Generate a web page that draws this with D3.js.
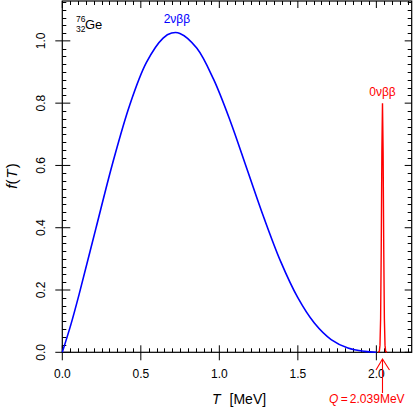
<!DOCTYPE html>
<html lang="en">
<head>
    <meta charset="UTF-8">
    <title>76Ge double beta spectrum</title>
    <style>
        body { margin: 0; background: #fff; }
        svg { display: block; font-family: "Liberation Sans", Arial, sans-serif; }
    </style>
</head>
<body>
    <div id="chart"></div>

    <script src="https://cdnjs.cloudflare.com/ajax/libs/d3/7.8.5/d3.min.js"></script>
    <script>
        // 2vbb continuum
        const twoNuT = [0, 0.054, 0.107, 0.214, 0.321, 0.428, 0.535, 0.642, 0.696, 0.749, 0.856, 0.963, 1.070, 1.177, 1.284, 1.391, 1.498, 1.605, 1.712, 1.819, 1.926, 2.000];
        const twoNuF = [0, 0.088, 0.186, 0.398, 0.608, 0.792, 0.930, 1.009, 1.025, 1.024, 0.977, 0.877, 0.742, 0.587, 0.432, 0.291, 0.177, 0.094, 0.041, 0.014, 0.003, 0];

        // 0vbb line at Q
        const zeroNuT = [2.011, 2.019, 2.023, 2.027, 2.031, 2.035, 2.039, 2.043, 2.047, 2.051, 2.055, 2.059, 2.067];
        const zeroNuF = [0, 0.003, 0.023, 0.108, 0.329, 0.641, 0.8, 0.641, 0.329, 0.108, 0.023, 0.003, 0];
        const qValue = 2.039;

        const xMajor = [0, 0.5, 1.0, 1.5, 2.0];
        const yMajor = [0, 0.2, 0.4, 0.6, 0.8, 1.0];

        const W = 415, H = 407;
        const x = d3.scaleLinear().domain([0, 2.225]).range([62.3, 411.7]);
        const y = d3.scaleLinear().domain([0, 1.128]).range([352.3, 1]);

        const svg = d3.select("#chart").append("svg")
            .attr("width", W).attr("height", H);

        const x0 = x.range()[0], x1 = x.range()[1];
        const y0 = y.range()[0], y1 = y.range()[1];

        // minor ticks
        const xMinor = d3.range(0, 2.225, 0.05).filter(v => Math.abs(v * 2 - Math.round(v * 2)) > 1e-6);
        const yMinor = d3.range(0, 1.128, 0.025).filter(v => Math.abs(v * 5 - Math.round(v * 5)) > 1e-6);

        const ticks = svg.append("g").attr("stroke", "#000").attr("stroke-width", 1);
        xMinor.forEach(v => {
            const px = Math.round(x(v)) + 0.5;
            ticks.append("line").attr("x1", px).attr("x2", px).attr("y1", y0).attr("y2", y0 - 4);
            ticks.append("line").attr("x1", px).attr("x2", px).attr("y1", y1).attr("y2", y1 + 4);
        });
        yMinor.forEach(v => {
            const py = Math.round(y(v)) + 0.5;
            ticks.append("line").attr("x1", x0).attr("x2", x0 + 4).attr("y1", py).attr("y2", py);
            ticks.append("line").attr("x1", x1).attr("x2", x1 - 4).attr("y1", py).attr("y2", py);
        });
        xMajor.forEach(v => {
            const px = x(v);
            ticks.append("line").attr("x1", px).attr("x2", px).attr("y1", y0 + 8).attr("y2", y0 - 7);
            ticks.append("line").attr("x1", px).attr("x2", px).attr("y1", y1).attr("y2", y1 + 7);
        });
        yMajor.forEach(v => {
            const py = y(v);
            ticks.append("line").attr("x1", x0 - 7).attr("x2", x0 + 8).attr("y1", py).attr("y2", py);
            ticks.append("line").attr("x1", x1).attr("x2", x1 - 7).attr("y1", py).attr("y2", py);
        });

        // frame
        svg.append("rect")
            .attr("x", x0).attr("y", y1)
            .attr("width", x1 - x0).attr("height", y0 - y1)
            .attr("fill", "none").attr("stroke", "#000").attr("stroke-width", 1.2);

        // tick labels
        svg.append("g").selectAll("text")
            .data(xMajor).enter().append("text")
            .attr("x", d => x(d)).attr("y", 378)
            .attr("text-anchor", "middle").attr("font-size", 12)
            .text(d => d.toFixed(1));

        svg.append("g").selectAll("text")
            .data(yMajor).enter().append("text")
            .attr("transform", d => "translate(45," + y(d) + ") rotate(-90)")
            .attr("text-anchor", "middle").attr("font-size", 12)
            .text(d => d.toFixed(1));

        // axis titles
        const xt = svg.append("text").attr("x", 212).attr("y", 404).attr("font-size", 14);
        xt.append("tspan").attr("font-style", "italic").text("T");
        xt.append("tspan").attr("dx", 9).text("[MeV]");

        const yt = svg.append("text")
            .attr("transform", "translate(17,176) rotate(-90)")
            .attr("text-anchor", "middle").attr("font-size", 15);
        yt.append("tspan").attr("font-style", "italic").text("f");
        yt.append("tspan").text("(");
        yt.append("tspan").attr("font-style", "italic").attr("dx", 1).text("T");
        yt.append("tspan").attr("dx", 1).text(")");

        // curves
        const smooth = d3.line().x(d => x(d[0])).y(d => y(d[1])).curve(d3.curveCatmullRom);
        svg.append("path")
            .attr("d", smooth(d3.zip(twoNuT, twoNuF)))
            .attr("fill", "none").attr("stroke", "#0000ff").attr("stroke-width", 1.6);

        const straight = d3.line().x(d => x(d[0])).y(d => y(d[1]));
        svg.append("path")
            .attr("d", straight(d3.zip(zeroNuT, zeroNuF)))
            .attr("fill", "none").attr("stroke", "#ff0000").attr("stroke-width", 1.4);

        // labels
        svg.append("text").attr("x", x(0.73)).attr("y", 23)
            .attr("text-anchor", "middle").attr("font-size", 12).attr("fill", "#0000ff")
            .text("2νββ");
        svg.append("text").attr("x", x(qValue)).attr("y", 96)
            .attr("text-anchor", "middle").attr("font-size", 12).attr("fill", "#ff0000")
            .text("0νββ");

        const ge = svg.append("g").attr("fill", "#000");
        ge.append("text").attr("x", 76).attr("y", 22).attr("font-size", 8.5).text("76");
        ge.append("text").attr("x", 76).attr("y", 32).attr("font-size", 8.5).text("32");
        ge.append("text").attr("x", 85).attr("y", 28.7).attr("font-size", 13).text("Ge");

        // Q arrow
        const qx = x(qValue);
        const arrow = svg.append("g").attr("stroke", "#ff0000").attr("stroke-width", 1.1).attr("fill", "none");
        arrow.append("line").attr("x1", qx).attr("x2", qx).attr("y1", 359).attr("y2", 393);
        arrow.append("path").attr("d", "M" + (qx - 6.5) + ",370 L" + qx + ",359 L" + (qx + 7) + ",370");

        const qt = svg.append("text").attr("x", 329).attr("y", 403)
            .attr("font-size", 12).attr("fill", "#ff0000");
        qt.append("tspan").attr("font-style", "italic").text("Q");
        qt.append("tspan").attr("dx", 2.5).text("=");
        qt.append("tspan").attr("dx", 2).text("2.039MeV");
    </script>
</body>
</html>
